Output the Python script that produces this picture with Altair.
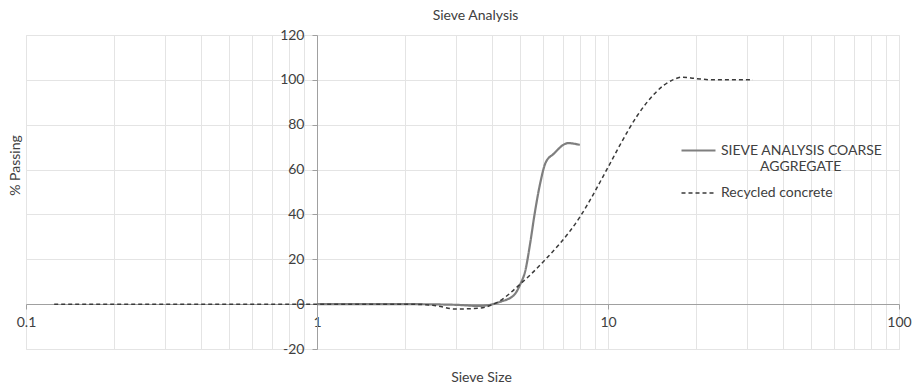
import altair as alt
import pandas as pd

# Sieve analysis coarse aggregate (solid)
coarse_size = [1, 2, 3, 3.6, 4.25, 4.75, 5.0, 5.2, 5.4, 5.6, 5.85, 6.1, 6.5, 7.3, 8.0]
coarse_pass = [0, 0, -0.3, -0.8, 1.0, 4.0, 9.0, 15.0, 27.0, 40.5, 54.0, 63.0, 67.0, 71.8, 71.0]

# Recycled concrete (dashed)
rec_size = [0.125, 1, 2, 2.5, 3.0, 3.6, 4.25, 5.0, 5.84, 8.0, 10.0, 11.0, 12.6, 16.7, 18.0, 20.0, 23.0, 31.5]
rec_pass = [0, 0, 0, -0.5, -2.2, -1.8, 1.5, 9.0, 17.4, 38.8, 61.0, 71.0, 84.0, 100.0, 101.2, 100.6, 100.0, 100.0]

series_names = ["SIEVE ANALYSIS COARSE AGGREGATE", "Recycled concrete"]

grid_x = [0.1, 0.2, 0.3, 0.4, 0.5, 0.6, 0.7, 0.8, 0.9,
          1, 2, 3, 4, 5, 6, 7, 8, 9,
          10, 20, 30, 40, 50, 60, 70, 80, 90, 100]
decades = [0.1, 1, 10, 100]
y_ticks = [-20, 0, 20, 40, 60, 80, 100, 120]

df = pd.concat([
    pd.DataFrame({"series": series_names[0], "size": coarse_size, "passing": coarse_pass}),
    pd.DataFrame({"series": series_names[1], "size": rec_size, "passing": rec_pass}),
])

FONT = "Lato"
TXT = "#404040"
GRID = "#e4e4e4"
AX = "#a0a0a0"

xscale = alt.Scale(type="log", domain=[0.1, 100], nice=False)
yscale = alt.Scale(domain=[-20, 120], nice=False, zero=False)

grid_layer = alt.Chart(df).mark_line(opacity=0).encode(
    x=alt.X("size:Q", scale=xscale,
            axis=alt.Axis(orient="bottom", values=grid_x, grid=True, gridColor=GRID,
                          labels=False, ticks=False, domain=False,
                          title="Sieve Size", titleFont=FONT, titleFontSize=14,
                          titleFontWeight="normal", titleColor=TXT,
                          titlePadding=21, titleX=455)),
    y=alt.Y("passing:Q", scale=yscale,
            axis=alt.Axis(orient="left", values=y_ticks, grid=True, gridColor=GRID,
                          labels=False, ticks=False, domain=False,
                          title="% Passing", titleFont=FONT, titleFontSize=14,
                          titleFontWeight="normal", titleColor=TXT,
                          titlePadding=4, titleY=130)),
    detail="series:N",
)

INDENT = "\u200b" + "\u00a0" * 11
leg = alt.Legend(
    title=None, orient="none", legendX=654, legendY=97,
    symbolType="stroke", symbolSize=34 * 34, symbolStrokeWidth=2,
    labelFont=FONT, labelFontSize=14, labelColor=TXT, labelLimit=0,
    rowPadding=1,
    labelExpr="datum.label == 'SIEVE ANALYSIS COARSE AGGREGATE' ? ['SIEVE ANALYSIS COARSE', '"
              + INDENT + "AGGREGATE'] : datum.label",
)

lines = alt.Chart(df).mark_line(interpolate="monotone").encode(
    x=alt.X("size:Q", scale=xscale,
            axis=alt.Axis(orient="bottom", values=decades, grid=False, offset=-45,
                          domainColor=AX, tickColor=AX, tickSize=5,
                          labelFont=FONT, labelFontSize=14, labelColor=TXT, labelPadding=6,
                          labelFlush=False, title=None,
                          labelExpr="datum.value >= 1 ? format(datum.value, 'd') : '0.1'")),
    y=alt.Y("passing:Q", scale=yscale,
            axis=alt.Axis(orient="left", values=y_ticks, grid=False, offset=-291,
                          domainColor=AX, tickColor=AX, tickSize=5,
                          labelFont=FONT, labelFontSize=14, labelColor=TXT, labelPadding=8,
                          labelExpr="datum.value < 0 ? '-' + abs(datum.value) : '' + datum.value",
                          title=None)),
    color=alt.Color("series:N", scale=alt.Scale(domain=series_names, range=["#7f7f7f", "#3a3a3a"]), legend=leg),
    strokeDash=alt.StrokeDash("series:N", scale=alt.Scale(domain=series_names, range=[[1, 0], [4, 3]]), legend=leg),
    strokeWidth=alt.StrokeWidth("series:N", scale=alt.Scale(domain=series_names, range=[2.2, 1.5]), legend=leg),
)

chart = alt.layer(grid_layer, lines).resolve_axis(x="independent", y="independent").properties(
    width=873, height=314,
    autosize=alt.AutoSizeParams(type="none"),
    padding={"left": 26, "top": 35, "right": 21, "bottom": 39},
    title=alt.TitleParams("Sieve Analysis", font=FONT, fontSize=14, fontWeight="normal",
                          color=TXT, anchor="middle", dx=13, offset=5),
).configure_view(stroke=GRID)

chart.save("out.html", embed_options={"renderer": "svg", "actions": False})
